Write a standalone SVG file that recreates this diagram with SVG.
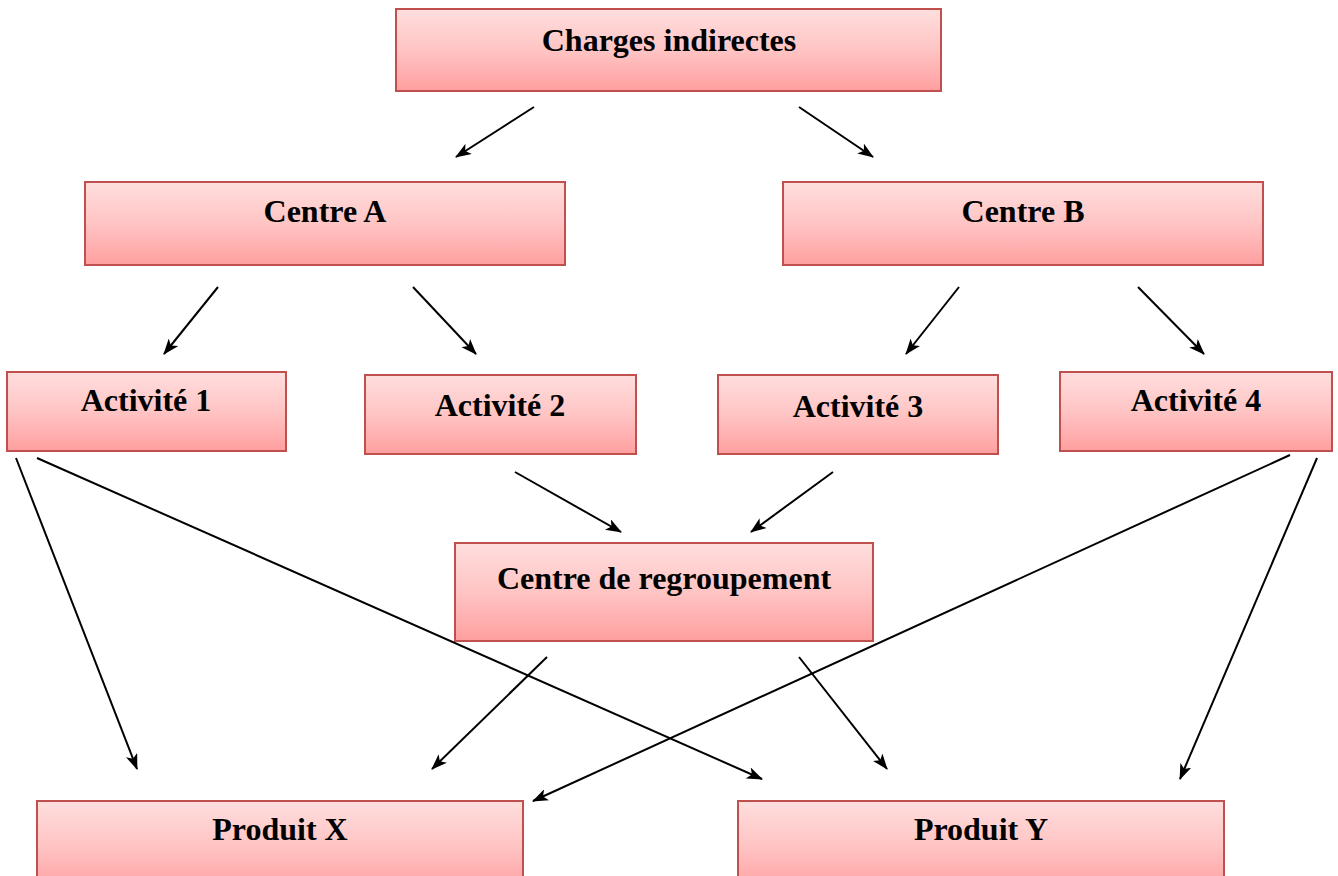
<svg xmlns="http://www.w3.org/2000/svg" width="1338" height="876" viewBox="0 0 1338 876">
  <style>
    .box { fill: url(#boxFill); stroke: #c0504d; stroke-width: 2; }
    .lbl { font-family: "Liberation Serif", "Times New Roman", serif; font-weight: bold; font-size: 32px; fill: #000; text-anchor: middle; }
    .arr { stroke: #000; stroke-width: 2; fill: none; marker-end: url(#head); }
  </style>
  <defs>
    <linearGradient id="boxFill" x1="0" y1="0" x2="0" y2="1">
      <stop offset="0" stop-color="#ffdede"/>
      <stop offset="0.5" stop-color="#ffc4c4"/>
      <stop offset="1" stop-color="#ff9f9f"/>
    </linearGradient>
    <marker id="head" markerUnits="userSpaceOnUse" markerWidth="16" markerHeight="12" viewBox="0 0 16 12" refX="15" refY="6" orient="auto">
      <path d="M0,0 L16,6 L0,12 L4,6 z" fill="#000"/>
    </marker>
  </defs>
  <rect width="1338" height="876" fill="#fff"/>

  <g id="charges">
    <rect class="box" x="396" y="9" width="545" height="82"/>
    <text class="lbl" x="669" y="51">Charges indirectes</text>
  </g>
  <g id="centreA">
    <rect class="box" x="85" y="182" width="480" height="83"/>
    <text class="lbl" x="325" y="222">Centre A</text>
  </g>
  <g id="centreB">
    <rect class="box" x="783" y="182" width="480" height="83"/>
    <text class="lbl" x="1023" y="222">Centre B</text>
  </g>
  <g id="act1">
    <rect class="box" x="7" y="372" width="279" height="79"/>
    <text class="lbl" x="146" y="411">Activité 1</text>
  </g>
  <g id="act2">
    <rect class="box" x="365" y="375" width="271" height="79"/>
    <text class="lbl" x="500" y="416">Activité 2</text>
  </g>
  <g id="act3">
    <rect class="box" x="718" y="375" width="280" height="79"/>
    <text class="lbl" x="858" y="417">Activité 3</text>
  </g>
  <g id="act4">
    <rect class="box" x="1060" y="372" width="272" height="79"/>
    <text class="lbl" x="1196" y="411">Activité 4</text>
  </g>
  <g id="regroupement">
    <rect class="box" x="455" y="543" width="418" height="98"/>
    <text class="lbl" x="664" y="589">Centre de regroupement</text>
  </g>
  <g id="produitX">
    <rect class="box" x="37" y="801" width="486" height="90"/>
    <text class="lbl" x="280" y="840">Produit X</text>
  </g>
  <g id="produitY">
    <rect class="box" x="738" y="801" width="486" height="90"/>
    <text class="lbl" x="981" y="840">Produit Y</text>
  </g>

  <g id="connectors">
    <line class="arr" x1="534" y1="107" x2="456" y2="157"/>
    <line class="arr" x1="799" y1="107" x2="873" y2="157"/>
    <line class="arr" x1="218" y1="287" x2="164" y2="354"/>
    <line class="arr" x1="413" y1="287" x2="476" y2="354"/>
    <line class="arr" x1="959" y1="287" x2="906" y2="354"/>
    <line class="arr" x1="1138" y1="287" x2="1204" y2="354"/>
    <line class="arr" x1="16" y1="458" x2="137" y2="769"/>
    <line class="arr" x1="37" y1="458" x2="762" y2="779"/>
    <line class="arr" x1="515" y1="472" x2="621" y2="532"/>
    <line class="arr" x1="833" y1="472" x2="751" y2="532"/>
    <line class="arr" x1="1290" y1="455" x2="533" y2="801"/>
    <line class="arr" x1="1317" y1="458" x2="1180" y2="779"/>
    <line class="arr" x1="547" y1="657" x2="432" y2="769"/>
    <line class="arr" x1="799" y1="657" x2="887" y2="769"/>
  </g>
</svg>
